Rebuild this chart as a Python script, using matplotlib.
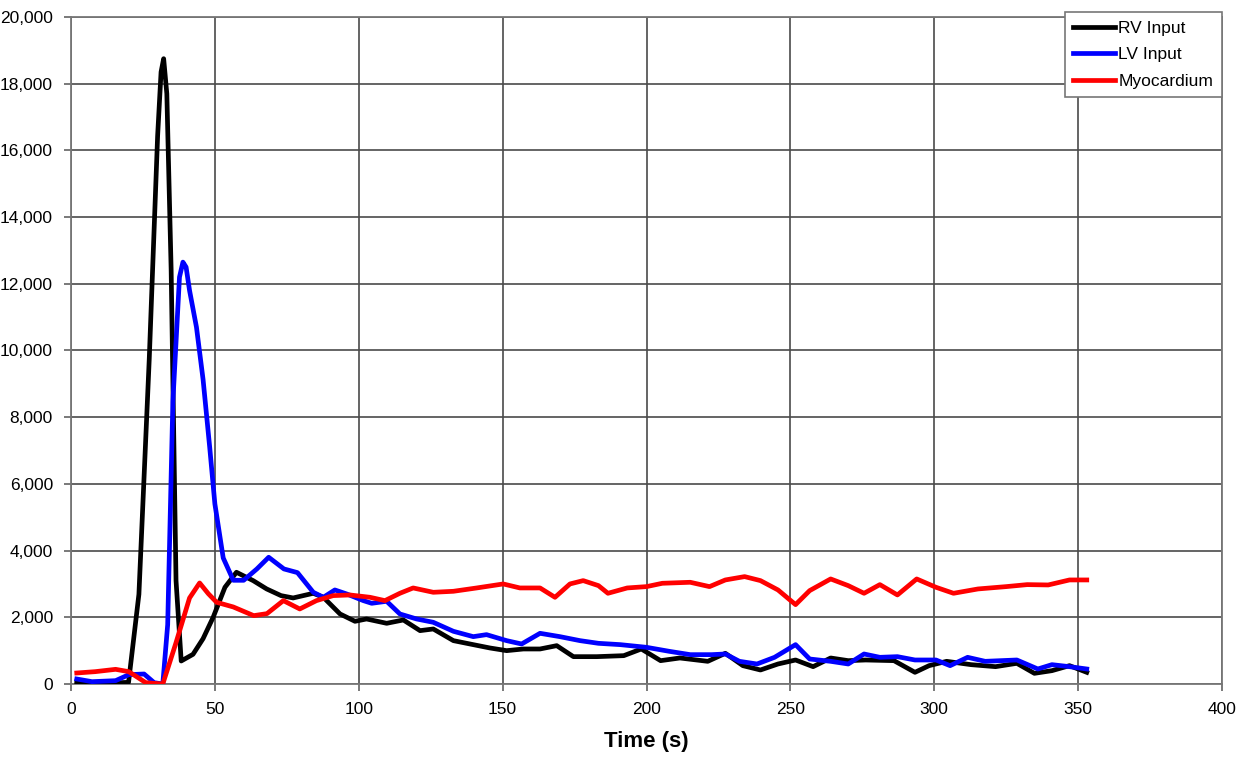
import numpy as np
import matplotlib
matplotlib.use('Agg')
import matplotlib.pyplot as plt
from matplotlib.ticker import FuncFormatter

plt.rcParams['font.family'] = ['Liberation Sans', 'DejaVu Sans']

# RV input (black)
t_rv = [2, 8, 14, 20, 23.6, 27.2, 30.1, 31.3, 32.2, 33.3, 34.8, 36.5, 38.3, 42.4, 45.9, 49.4, 53.5,
        57.5, 63.3, 68, 73, 77.2, 84.2, 87.7, 93.5, 98.7, 102.7, 109.7, 115.5, 121.3,
        125.9, 132.9, 139.8, 145.6, 151.4, 157.2, 163, 168.8, 174.6, 182.7, 192.1, 198.2,
        204.9, 211.6, 221.3, 227.4, 233.5, 239.6, 245.7, 251.8, 257.9, 264, 270.1, 276.2,
        286, 293.3, 298.2, 304.3, 312.8, 321.3, 328.7, 334.8, 340.9, 347, 353]
v_rv = [60, 30, 30, 50, 2690, 9760, 16430, 18350, 18750, 17700, 12430, 3100, 690, 890, 1360, 2000, 2900,
        3350, 3100, 2850, 2650, 2580, 2720, 2600, 2100, 1880, 1950, 1820, 1920, 1600,
        1650, 1300, 1180, 1080, 1000, 1050, 1050, 1150, 820, 820, 850, 1050,
        700, 780, 680, 920, 550, 420, 600, 720, 520, 780, 700, 720,
        700, 350, 550, 680, 580, 520, 620, 320, 400, 550, 350]

# LV input (blue)
t_lv = [2, 7.3, 15.5, 20.1, 25.4, 28.9, 31.9, 33.6, 35.4, 37.7, 38.9, 40, 41.2, 43.6, 45.9,
        48.2, 50, 52.9, 56.4, 60, 64.6, 68.7, 74, 78.7, 84.2, 87.7, 91.7, 95.8, 101.6,
        104.5, 109.7, 114.3, 120.1, 125.9, 132.9, 139.8, 144.4, 151.4, 156.6, 163, 169.9,
        176.9, 183.3, 190.9, 200, 207.9, 215.2, 222.6, 227.4, 232.3, 238.4, 244.5, 251.8,
        256.7, 264, 270.1, 275.6, 281.1, 287.2, 293.3, 300.6, 305.5, 311.6, 317.7, 328.7,
        336, 340.9, 347, 353]
v_lv = [150, 70, 100, 280, 300, 40, 0, 1780, 8460, 12200, 12650, 12500, 11800, 10700, 9130,
        7100, 5400, 3780, 3110, 3110, 3450, 3800, 3450, 3340, 2750, 2600, 2820, 2700, 2500,
        2420, 2480, 2100, 1950, 1850, 1580, 1420, 1480, 1300, 1200, 1520, 1420,
        1300, 1220, 1180, 1100, 980, 880, 880, 900, 680, 600, 800, 1180,
        750, 680, 600, 900, 800, 820, 720, 720, 550, 800, 680, 720,
        450, 580, 520, 450]

# Myocardium (red)
t_myo = [2, 8.4, 15.5, 20.1, 26, 31.9, 36.5, 41.2, 44.7, 47.7, 50.6, 56.4, 63.5, 68.1,
         73.8, 79.5, 85.3, 91.1, 96.9, 103.9, 109.1, 114.3, 118.9, 125.9, 132.9, 141,
         150.2, 156, 163, 168.2, 173.4, 178, 183.3, 186.6, 193.3, 200, 205.5, 215.2, 221.9,
         227.4, 234.1, 239.6, 245.7, 251.8, 256.7, 264, 270.1, 275.6, 281.1, 287.2, 293.9,
         300.6, 306.7, 315.2, 325, 332.3, 339.6, 347, 353]
v_myo = [330, 370, 440, 370, 40, 0, 1240, 2580, 3030, 2710, 2450, 2310, 2050, 2110,
         2500, 2250, 2500, 2650, 2670, 2600, 2500, 2720, 2880, 2750, 2780, 2880,
         3000, 2880, 2880, 2600, 3000, 3100, 2950, 2720, 2880, 2920, 3020, 3050, 2920,
         3120, 3220, 3100, 2820, 2380, 2800, 3150, 2950, 2720, 2980, 2670, 3150,
         2900, 2720, 2850, 2920, 2980, 2970, 3120, 3120]

fig = plt.figure(figsize=(12.38, 7.58), dpi=100)
ax = fig.add_axes([71/1238, 1 - 684/758, (1222 - 71)/1238, (684 - 17)/758])

lw = 3.4
ax.plot(t_rv, v_rv, color='black', lw=lw, solid_joinstyle='round', label='RV Input', zorder=3)
ax.plot(t_lv, v_lv, color='#0000ff', lw=lw, solid_joinstyle='round', label='LV Input', zorder=4)
ax.plot(t_myo, v_myo, color='#ff0000', lw=lw, solid_joinstyle='round', label='Myocardium', zorder=5)

ax.set_xlim(0, 400)
ax.set_ylim(0, 20000)
ax.set_xticks(np.arange(0, 401, 50))
ax.set_yticks(np.arange(0, 20001, 2000))
ax.yaxis.set_major_formatter(FuncFormatter(lambda v, p: f'{int(v):,}'))
ax.grid(True, color='#4a4a4a', lw=1.2)
ax.set_axisbelow(True)
for s in ax.spines.values():
    s.set_color('#777777')
    s.set_linewidth(1.3)
ax.tick_params(direction='out', length=5, width=1.1, color='#555555', labelsize=12.5, pad=8)
ax.set_xlabel('Time (s)', fontsize=16, fontweight='bold', labelpad=10)

leg = ax.legend(loc='upper right', bbox_to_anchor=(1222/1238, 1 - 12/758),
                bbox_transform=fig.transFigure, borderaxespad=0, fancybox=False,
                framealpha=1, edgecolor='#777777', fontsize=12.5, handlelength=2.4,
                handletextpad=0.2, labelspacing=0.65, borderpad=0.5)
leg.get_frame().set_linewidth(1.2)

fig.savefig('out.png', dpi=100)
